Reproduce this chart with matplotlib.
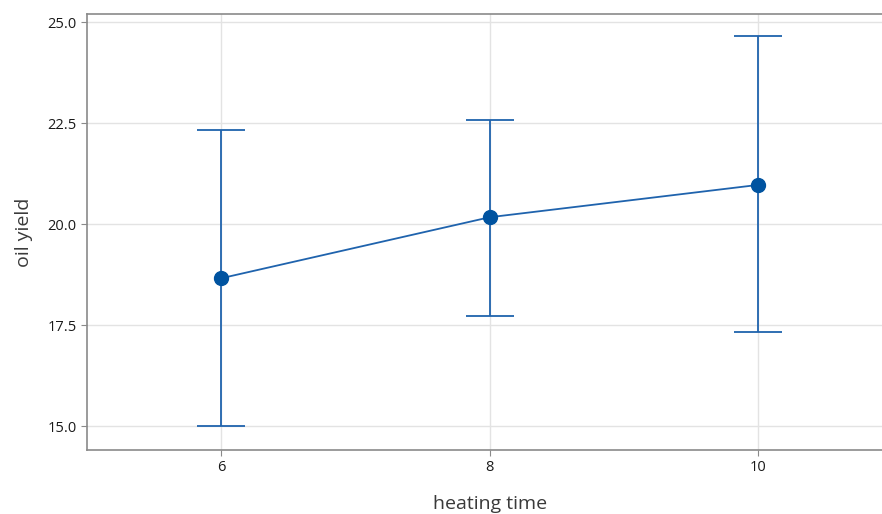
import numpy as np
import matplotlib.pyplot as plt

plt.rcParams['font.family'] = ['Open Sans', 'DejaVu Sans']

heating_time = [6, 8, 10]
oil_yield = [18.66, 20.17, 20.97]
ci_low = [15.0, 17.72, 17.33]
ci_high = [22.33, 22.57, 24.65]

y = np.array(oil_yield)
err = [y - np.array(ci_low), np.array(ci_high) - y]

fig = plt.figure(figsize=(8.82, 5.14), dpi=100)
ax = fig.add_axes([0.0986, 0.1245, 0.913, 0.8483])

ax.errorbar(heating_time, oil_yield, yerr=err, color="#1f63ad", lw=1.3,
            capsize=17.5, capthick=1.3, marker="o", markersize=10,
            markerfacecolor="#0053a0", markeredgecolor="#0053a0", zorder=3)

ax.set_xlim(5, 11)
ax.set_ylim(14.41, 25.2)
ax.set_xticks([6, 8, 10])
ax.set_yticks([15.0, 17.5, 20.0, 22.5, 25.0])
ax.set_yticklabels(["15.0", "17.5", "20.0", "22.5", "25.0"])
ax.grid(True, color="#e3e3e3", lw=1)
ax.set_axisbelow(True)
for s in ax.spines.values():
    s.set_color("#8a8a8a")
    s.set_linewidth(1.2)
ax.tick_params(colors="#8a8a8a", labelcolor="#1a1a1a", labelsize=10.5, length=4)

ax.set_xlabel("heating time", fontsize=14, color="#3a3a3a", labelpad=14)
ax.set_ylabel("oil yield", fontsize=14, color="#3a3a3a", labelpad=10)

fig.savefig("out.png", dpi=100)
